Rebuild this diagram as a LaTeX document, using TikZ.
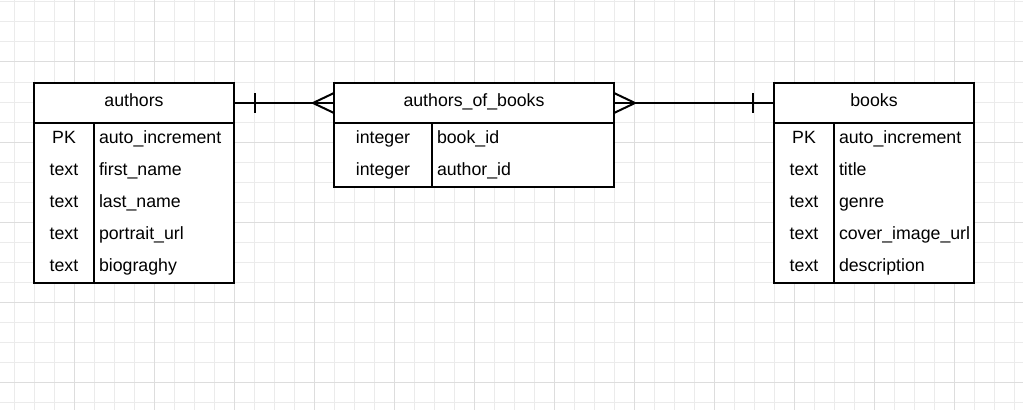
\documentclass[tikz,border=0pt]{standalone}
\usepackage{fontspec}
\setmainfont{Liberation Sans}
\definecolor{gridminor}{HTML}{EBEBEB}
\definecolor{gridmajor}{HTML}{DDDDDD}
\begin{document}
\begin{tikzpicture}[x=0.75pt,y=-0.75pt,
  every node/.style={font=\fontsize{13.3}{16}\selectfont, inner sep=0pt, outer sep=0pt},
  tbl/.style={draw=black, line width=1.5pt, fill=white},
  hdr/.style={tbl, anchor=north west, minimum height=30pt, text height=9pt, text depth=3.75pt},
  body/.style={tbl, anchor=north west},
  div/.style={draw=black, line width=1.5pt},
  key/.style={anchor=base},
  fld/.style={anchor=base west},
  rel/.style={draw=black, line width=1.5pt, line join=miter},
  minor/.style={draw=gridminor, line width=0.75pt},
  major/.style={draw=gridmajor, line width=0.75pt}]

\useasboundingbox (0,0) rectangle (1023,410);
\fill[white] (0,0) rectangle (1023,410);

% background grid
\foreach \x in {14,34,...,1014} \draw[minor] (\x,0) -- (\x,410);
\foreach \y in {2,22,...,402} \draw[minor] (0,\y) -- (1023,\y);
\foreach \x in {74,154,...,954} \draw[major] (\x,0) -- (\x,410);
\foreach \y in {62,142,...,382} \draw[major] (0,\y) -- (1023,\y);

% table: authors
\node[hdr, minimum width=150pt] (authorsH) at (34,83) {authors};
\node[body, minimum width=150pt, minimum height=120pt] (authorsB) at (34,123) {};
\draw[div] (94,123) -- (94,283);
\node[key] (a1k) at (64,143.5) {PK};
\node[fld] (a1f) at (99,143.5) {auto\_increment};
\node[key] (a2k) at (64,175.5) {text};
\node[fld] (a2f) at (99,175.5) {first\_name};
\node[key] (a3k) at (64,207.5) {text};
\node[fld] (a3f) at (99,207.5) {last\_name};
\node[key] (a4k) at (64,239.5) {text};
\node[fld] (a4f) at (99,239.5) {portrait\_url};
\node[key] (a5k) at (64,271.5) {text};
\node[fld] (a5f) at (99,271.5) {biograghy};

% table: authors_of_books
\node[hdr, minimum width=210pt] (aobH) at (334,83) {authors\_of\_books};
\node[body, minimum width=210pt, minimum height=48pt] (aobB) at (334,123) {};
\draw[div] (432,123) -- (432,187);
\node[key] (j1k) at (383,143.5) {integer};
\node[fld] (j1f) at (437,143.5) {book\_id};
\node[key] (j2k) at (383,175.5) {integer};
\node[fld] (j2f) at (437,175.5) {author\_id};

% table: books
\node[hdr, minimum width=150pt] (booksH) at (774,83) {books};
\node[body, minimum width=150pt, minimum height=120pt] (booksB) at (774,123) {};
\draw[div] (834,123) -- (834,283);
\node[key] (b1k) at (804,143.5) {PK};
\node[fld] (b1f) at (839,143.5) {auto\_increment};
\node[key] (b2k) at (804,175.5) {text};
\node[fld] (b2f) at (839,175.5) {title};
\node[key] (b3k) at (804,207.5) {text};
\node[fld] (b3f) at (839,207.5) {genre};
\node[key] (b4k) at (804,239.5) {text};
\node[fld] (b4f) at (839,239.5) {cover\_image\_url};
\node[key] (b5k) at (804,271.5) {text};
\node[fld] (b5f) at (839,271.5) {description};

% relation: authors (one) -- authors_of_books (many)
\draw[rel] (authorsH.east) -- (aobH.west);
\draw[rel] ([xshift=15.75pt, yshift=7.5pt]authorsH.east) -- ([xshift=15.75pt, yshift=-7.5pt]authorsH.east);
\draw[rel] ([yshift=7.5pt]aobH.west) -- ([xshift=-15.75pt]aobH.west) -- ([yshift=-7.5pt]aobH.west);

% relation: authors_of_books (many) -- books (one)
\draw[rel] (aobH.east) -- (booksH.west);
\draw[rel] ([yshift=7.5pt]aobH.east) -- ([xshift=15.75pt]aobH.east) -- ([yshift=-7.5pt]aobH.east);
\draw[rel] ([xshift=-15.75pt, yshift=7.5pt]booksH.west) -- ([xshift=-15.75pt, yshift=-7.5pt]booksH.west);

\end{tikzpicture}
\end{document}
